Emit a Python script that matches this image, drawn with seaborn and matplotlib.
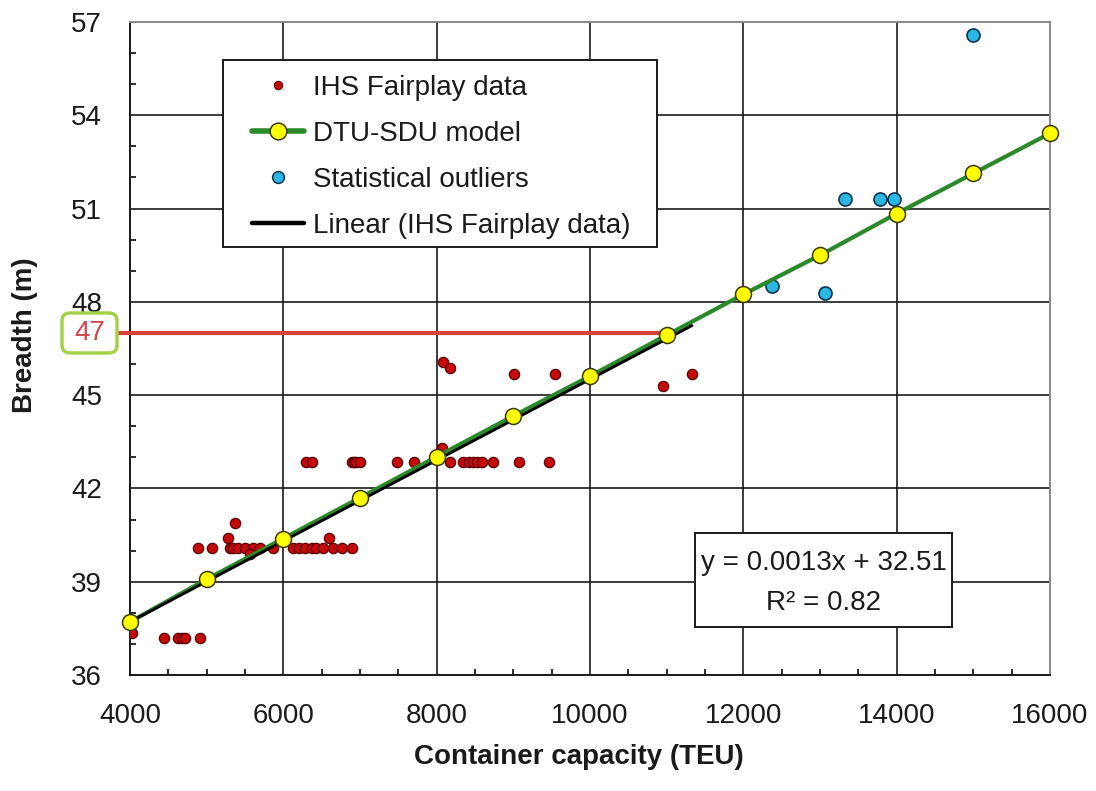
import numpy as np
import matplotlib
matplotlib.use("Agg")
import matplotlib.pyplot as plt
from matplotlib.lines import Line2D
from matplotlib.patches import Rectangle, FancyBboxPatch
from matplotlib.transforms import IdentityTransform
from matplotlib.ticker import MultipleLocator
import seaborn as sns

# IHS Fairplay container ships: capacity (TEU) and breadth (m)
ihs_teu = [
    4020, 4450, 4620, 4680, 4720, 4910,
    4890, 5070, 5300, 5350, 5410, 5500, 5610, 5700, 5870, 6130, 6200,
    6280, 6370, 6430, 6520, 6650, 6760, 6900,
    5280, 5370, 5570, 6590,
    6300, 6370, 6890, 6920, 6950, 7000, 7480, 7700, 8170, 8350, 8420,
    8470, 8530, 8590, 8730, 9080, 9460,
    8065, 8080, 8180, 9010, 9540, 10950, 11330,
]
ihs_breadth = [
    37.34, 37.2, 37.2, 37.2, 37.2, 37.2,
    40.1, 40.1, 40.1, 40.1, 40.1, 40.1, 40.1, 40.1, 40.1, 40.1, 40.1,
    40.1, 40.1, 40.1, 40.1, 40.1, 40.1, 40.1,
    40.4, 40.9, 39.9, 40.4,
    42.85, 42.85, 42.85, 42.85, 42.85, 42.85, 42.85, 42.85, 42.85, 42.85, 42.85,
    42.85, 42.85, 42.85, 42.85, 42.85, 42.85,
    43.3, 46.07, 45.88, 45.67, 45.67, 45.3, 45.67,
]

# Vessels flagged as statistical outliers
outlier_teu = [12380, 13070, 13330, 13780, 13960, 14990]
outlier_breadth = [48.52, 48.27, 51.3, 51.3, 51.3, 56.58]

# DTU-SDU model breadth per design capacity
model_teu = [4000, 5000, 6000, 7000, 8000, 9000, 10000,
             11000, 12000, 13000, 14000, 15000, 16000]
model_breadth = [37.71, 39.08, 40.39, 41.70, 43.02, 44.33, 45.61,
                 46.93, 48.24, 49.50, 50.84, 52.13, 53.42]

# Linear trend fitted to the IHS Fairplay data
trend_slope = 0.0013
trend_intercept = 32.51
trend_r2 = 0.82

# Highlighted breadth for an 11000 TEU design
highlight_breadth = 47
highlight_teu = 11000

x_ticks = [4000, 6000, 8000, 10000, 12000, 14000, 16000]
y_ticks = [36, 39, 42, 45, 48, 51, 54, 57]

sns.set_style("white")
plt.rcParams["font.family"] = ["Liberation Sans", "DejaVu Sans"]

FS = 20
fig = plt.figure(figsize=(10.96, 7.91), dpi=100)
ax = fig.add_axes([0.1186, 0.1466, 0.8394, 0.8256])

red_c, red_e = "#C40A0A", "#5A0000"
blue_c, blue_e = "#2BB7E4", "#0D3550"
yel_c, yel_e = "#FFFF00", "#3A3A00"
green_c = "#2A8A2A"

sns.scatterplot(x=ihs_teu, y=ihs_breadth, ax=ax, color=red_c, edgecolor=red_e,
                s=7.4 ** 2, linewidth=0.9, zorder=3, legend=False)
sns.scatterplot(x=outlier_teu, y=outlier_breadth, ax=ax, color=blue_c,
                edgecolor=blue_e, s=9.4 ** 2, linewidth=1.2, zorder=3,
                legend=False, clip_on=False)
sns.lineplot(x=model_teu, y=model_breadth, ax=ax, color=green_c, lw=3.0,
             estimator=None, sort=False, zorder=4, legend=False)

trend_x = np.array([min(ihs_teu), max(ihs_teu)], dtype=float)
trend_y = trend_slope * trend_x + trend_intercept
sns.lineplot(x=trend_x, y=trend_y, ax=ax, color="black", lw=2.1,
             estimator=None, sort=False, zorder=5, legend=False)

sns.scatterplot(x=model_teu, y=model_breadth, ax=ax, color=yel_c,
                edgecolor=yel_e, s=11.5 ** 2, linewidth=1.1, zorder=6,
                legend=False, clip_on=False)

ax.set_xlim(x_ticks[0], x_ticks[-1])
ax.set_ylim(y_ticks[0], y_ticks[-1])
ax.set_xticks(x_ticks)
ax.set_yticks(y_ticks)
ax.xaxis.set_minor_locator(MultipleLocator(500))
ax.yaxis.set_minor_locator(MultipleLocator(1))
ax.tick_params(which="both", bottom=True, left=True, top=False, right=False)
ax.tick_params(which="major", direction="in", length=0, labelsize=FS,
               labelcolor="#1a1a1a", pad=20)
ax.tick_params(which="minor", direction="in", length=4.5, width=1.3,
               color="#1a1a1a")
ax.grid(True, which="major", color="#1a1a1a", lw=1.2)
ax.set_axisbelow(True)

for side in ("left", "bottom"):
    ax.spines[side].set_color("#1a1a1a")
    ax.spines[side].set_linewidth(1.4)
for side in ("top", "right"):
    ax.spines[side].set_color("#8c8c8c")
    ax.spines[side].set_linewidth(1.4)

ax.set_xlabel("Container capacity (TEU)", fontsize=FS, fontweight="bold",
              color="#1a1a1a")
ax.set_ylabel("Breadth (m)", fontsize=FS, fontweight="bold", color="#1a1a1a")
ax.xaxis.set_label_coords(0.488, -0.105)
ax.yaxis.set_label_coords(-0.1, 0.52)

# Highlight line and labelled value on the breadth axis
hx, hy = ax.transData.transform((highlight_teu, highlight_breadth))
box_w, box_h = 55, 40
box_cx = 89.5
box = FancyBboxPatch((box_cx - box_w / 2, hy - box_h / 2), box_w, box_h,
                     boxstyle="round,pad=0,rounding_size=8",
                     transform=IdentityTransform(), facecolor="white",
                     edgecolor="#A3D044", linewidth=2.4, zorder=10)
fig.patches.append(box)
fig.text(box_cx / fig.bbox.width, hy / fig.bbox.height, str(highlight_breadth),
         ha="center", va="center", fontsize=FS, color="#D0454A", zorder=11)
left_x = ax.transData.inverted().transform((box_cx + box_w / 2, hy))[0]
ax.plot([left_x, highlight_teu], [highlight_breadth, highlight_breadth],
        color="#D8413A", lw=3.0, zorder=2.6, clip_on=False, solid_capstyle="butt")

# Legend drawn on a framed white panel
handles = [
    Line2D([], [], ls="none", marker="o", ms=6, mfc=red_c, mec=red_e, mew=0.8),
    Line2D([], [], color=green_c, lw=4, marker="o", ms=12, mfc=yel_c,
           mec=yel_e, mew=1.1),
    Line2D([], [], ls="none", marker="o", ms=8.5, mfc=blue_c, mec=blue_e,
           mew=1.1),
    Line2D([], [], color="black", lw=3.2),
]
labels = ["IHS Fairplay data", "DTU-SDU model", "Statistical outliers",
          "Linear (IHS Fairplay data)"]
ax.add_patch(Rectangle((0.101, 0.655), 0.472, 0.287, transform=ax.transAxes,
                       facecolor="white", edgecolor="#1a1a1a", lw=1.4,
                       zorder=7))
leg = ax.legend(handles, labels, loc="upper left",
                bbox_to_anchor=(0.133, 0.919), frameon=False, fontsize=FS,
                borderpad=0, borderaxespad=0, handlelength=1.85,
                handletextpad=0.35, labelspacing=0.72)
leg.set_zorder(8)
for t in leg.get_texts():
    t.set_color("#1a1a1a")

# Trend equation panel
ax.add_patch(Rectangle((0.6147, 0.0735), 0.2793, 0.144, transform=ax.transAxes,
                       facecolor="white", edgecolor="#1a1a1a", lw=1.4,
                       zorder=7))
ax.text(0.7543, 0.1715, f"y = {trend_slope}x + {trend_intercept}",
        transform=ax.transAxes, ha="center", va="center", fontsize=FS,
        color="#1a1a1a", zorder=8)
ax.text(0.7543, 0.110, f"R\u00b2 = {trend_r2}", transform=ax.transAxes,
        ha="center", va="center", fontsize=FS, color="#1a1a1a", zorder=8)

fig.savefig("out.png", dpi=100)
